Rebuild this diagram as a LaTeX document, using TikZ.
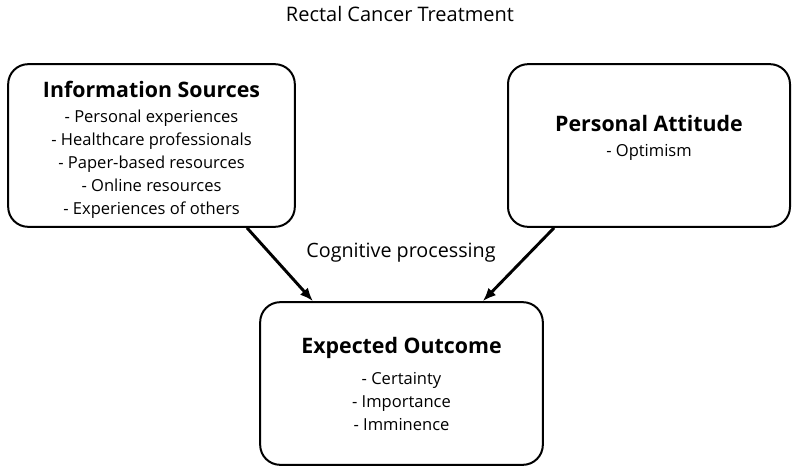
\documentclass[tikz,border=0pt]{standalone}
\usepackage{fontspec}
\setmainfont{Open Sans}
\usetikzlibrary{arrows.meta}

\tikzset{
  box/.style={draw, line width=1.5pt, rounded corners=15pt, align=center, inner sep=0pt},
  head/.style={font=\fontsize{16}{20}\selectfont\bfseries},
  arrow/.style={->, >={Latex[length=10pt,width=8pt]}, line width=2.2pt}
}
\newcommand{\itemfont}{\fontsize{12.4}{17.25}\selectfont}

\begin{document}
\begin{tikzpicture}[x=0.75pt, y=-0.75pt]
\useasboundingbox (0,0) rectangle (800,475);

% title
\node[font=\fontsize{15}{18}\selectfont] (title) at (400,14) {Rectal Cancer Treatment};

% boxes
\node[box, minimum width=215pt, minimum height=122pt] (info) at (151.5,145.5) {};
\node[box, minimum width=211.5pt, minimum height=122pt] (attitude) at (649,145.5) {};
\node[box, minimum width=212pt, minimum height=122pt] (outcome) at (401.5,383.5) {};

% box texts
\node[head] (infohead) at (151.5,89) {Information Sources};
\node[align=center, font=\itemfont] (infolist) at (151.5,164) {- Personal experiences\\- Healthcare professionals\\- Paper-based resources\\- Online resources\\- Experiences of others};

\node[head] (atthead) at (649,123) {Personal Attitude};
\node[font=\itemfont] (attlist) at (649,152) {- Optimism};

\node[head] (outhead) at (401.5,348) {Expected Outcome};
\node[align=center, font=\itemfont] (outlist) at (401.5,402) {- Certainty\\- Importance\\- Imminence};

% processing label
\node[font=\fontsize{14.8}{17}\selectfont] (proc) at (401,253) {Cognitive processing};

% arrows
\draw[arrow] ([xshift=71.6pt]info.south) -- ([xshift=-66.4pt]outcome.north);
\draw[arrow] ([xshift=-71.2pt]attitude.south) -- ([xshift=61pt]outcome.north);

\end{tikzpicture}
\end{document}
